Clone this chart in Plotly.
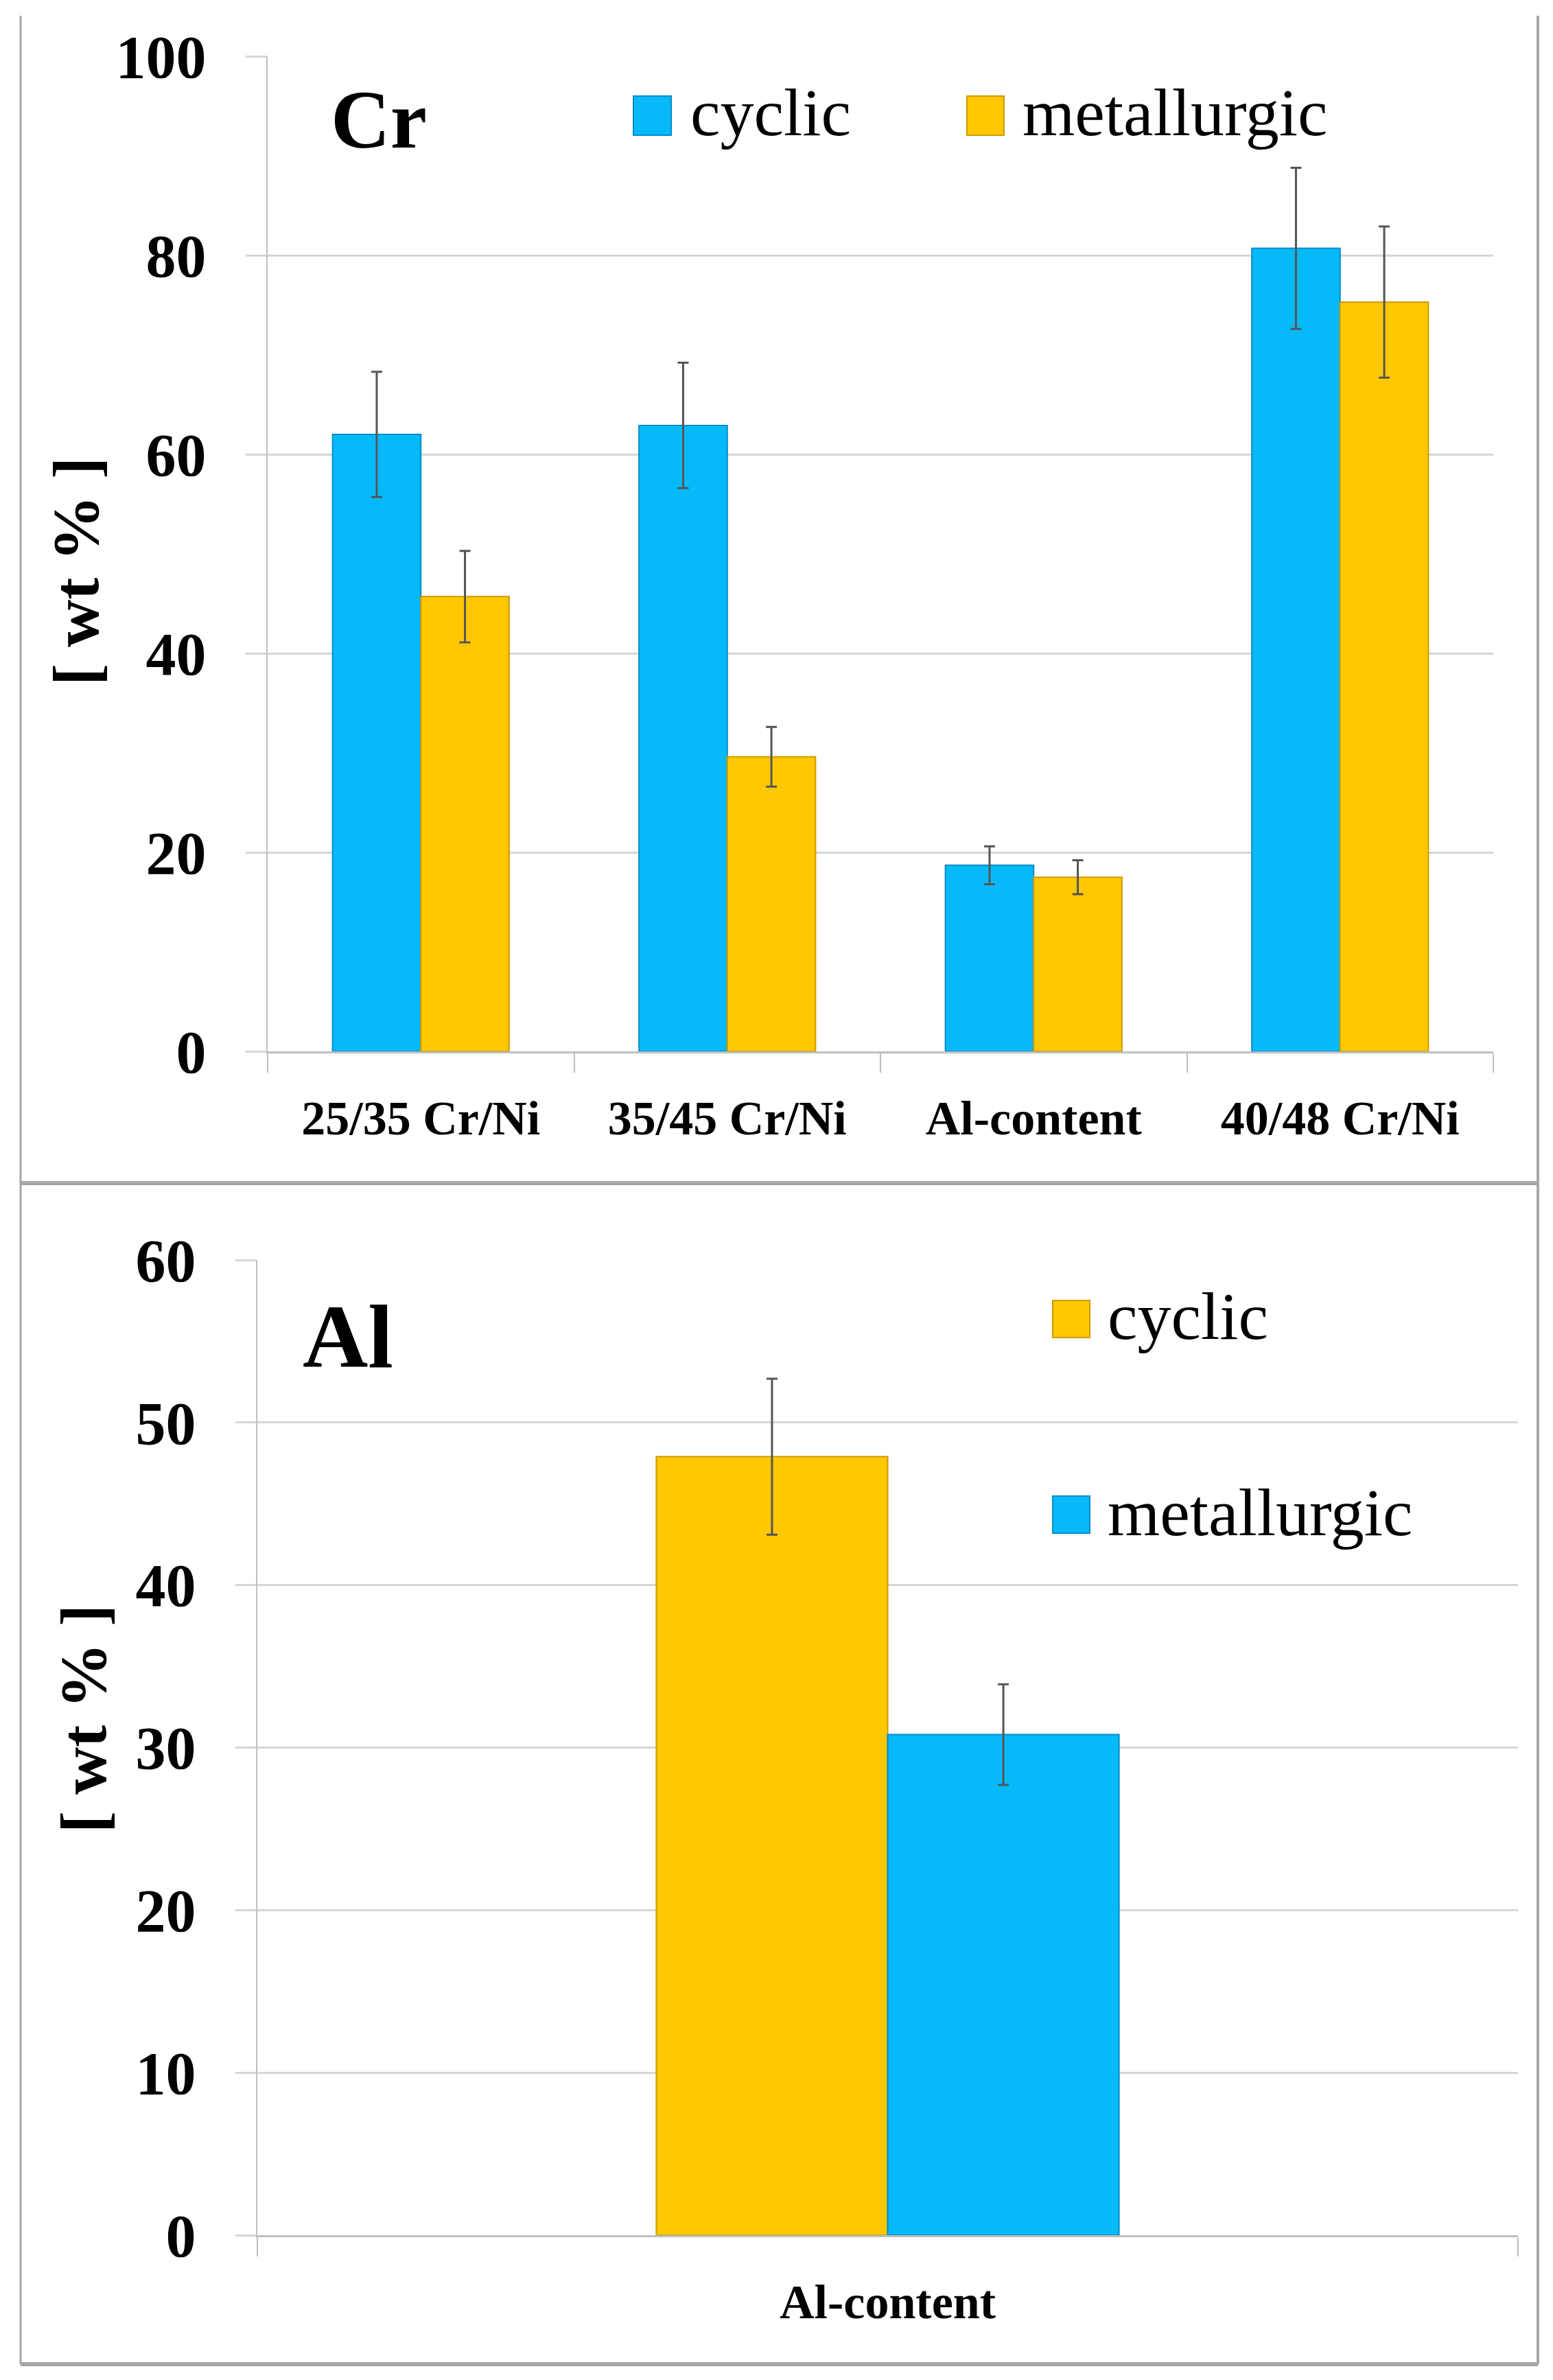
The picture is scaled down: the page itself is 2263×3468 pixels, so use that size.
import plotly.graph_objects as go

W, H = 2263, 3468
OFF = 8  # page body margin compensation

# ---------------- data ----------------
cr_categories = ["25/35 Cr/Ni", "35/45 Cr/Ni", "Al-content", "40/48 Cr/Ni"]
cr_cyclic = [62.0, 62.9, 18.7, 80.7]
cr_cyclic_err = [6.3, 6.3, 1.9, 8.1]
cr_metallurgic = [45.7, 29.6, 17.5, 75.3]
cr_metallurgic_err = [4.6, 3.0, 1.7, 7.6]

al_categories = ["Al-content"]
al_cyclic = [47.9]
al_cyclic_err = [4.8]
al_metallurgic = [30.8]
al_metallurgic_err = [3.1]

cr_yticks = [0, 20, 40, 60, 80, 100]
al_yticks = [0, 10, 20, 30, 40, 50, 60]

BLUE = "rgb(6,186,250)"
BLUE_EDGE = "rgb(0,140,200)"
GOLD = "rgb(255,200,0)"
GOLD_EDGE = "rgb(205,155,0)"
ERR = "#555555"
GRID = "#D6D6D6"
AXIS = "#BFBFBF"
FONT = "Liberation Serif"


def px(x):
    return (x - OFF) / W


def py(y):
    return 1 - (y - OFF) / H


fig = go.Figure()

# ---- top chart (Cr) ----
fig.add_trace(go.Bar(
    x=cr_categories, y=cr_cyclic, name="cyclic",
    marker=dict(color=BLUE, line=dict(color=BLUE_EDGE, width=2)),
    error_y=dict(type="data", array=cr_cyclic_err, color=ERR, thickness=3, width=8),
    xaxis="x", yaxis="y", showlegend=False,
))
fig.add_trace(go.Bar(
    x=cr_categories, y=cr_metallurgic, name="metallurgic",
    marker=dict(color=GOLD, line=dict(color=GOLD_EDGE, width=2)),
    error_y=dict(type="data", array=cr_metallurgic_err, color=ERR, thickness=3, width=8),
    xaxis="x", yaxis="y", showlegend=False,
))

# ---- bottom chart (Al) ----
BW = 0.1835
fig.add_trace(go.Bar(
    x=al_categories, y=al_cyclic, name="cyclic",
    width=BW, offset=-BW,
    marker=dict(color=GOLD, line=dict(color=GOLD_EDGE, width=2)),
    error_y=dict(type="data", array=al_cyclic_err, color=ERR, thickness=3, width=8),
    xaxis="x2", yaxis="y2", showlegend=False,
))
fig.add_trace(go.Bar(
    x=al_categories, y=al_metallurgic, name="metallurgic",
    width=BW, offset=0,
    marker=dict(color=BLUE, line=dict(color=BLUE_EDGE, width=2)),
    error_y=dict(type="data", array=al_metallurgic_err, color=ERR, thickness=3, width=8),
    xaxis="x2", yaxis="y2", showlegend=False,
))

xcommon = dict(
    type="category", showline=True, linecolor=AXIS, linewidth=3,
    ticks="outside", tickson="boundaries", ticklen=28, tickcolor=AXIS, tickwidth=2,
    showgrid=False, zeroline=False, automargin=False,
    tickfont=dict(family=FONT, size=70, color="black", weight="bold"),
    ticklabelstandoff=34,
)
ycommon = dict(
    showline=True, linecolor=AXIS, linewidth=2,
    ticks="outside", ticklen=30, tickcolor=GRID, tickwidth=3,
    showgrid=True, gridcolor=GRID, gridwidth=3, zeroline=False, automargin=False,
    tickfont=dict(family=FONT, size=88, color="black", weight="bold"),
    ticklabelstandoff=40,
)

fig.update_layout(
    width=W, height=H,
    margin=dict(l=0, r=0, t=0, b=0, autoexpand=False),
    paper_bgcolor="white", plot_bgcolor="white",
    barmode="group", bargap=0.424, bargroupgap=0,
    xaxis=dict(domain=[px(390), px(2176)], anchor="y", **xcommon),
    yaxis=dict(domain=[py(1532), py(82)], anchor="x", range=[0, 100],
               tickvals=cr_yticks, **ycommon),
    xaxis2=dict(domain=[px(375), px(2212)], anchor="y2", range=[-0.5, 0.5], **xcommon),
    yaxis2=dict(domain=[py(3257), py(1836)], anchor="x2", range=[0, 60],
                tickvals=al_yticks, **ycommon),
    font=dict(family=FONT, color="black"),
)

annotations = [
    dict(text="Cr", x=px(552), y=py(175), xref="paper", yref="paper",
         showarrow=False, xanchor="center", yanchor="middle",
         font=dict(family=FONT, size=120, weight="bold", color="black")),
    dict(text="Al", x=px(507), y=py(1947), xref="paper", yref="paper",
         showarrow=False, xanchor="center", yanchor="middle",
         font=dict(family=FONT, size=132, weight="bold", color="black")),
    dict(text="[ wt % ]", x=px(110), y=py(833), xref="paper", yref="paper",
         showarrow=False, xanchor="center", yanchor="middle", textangle=-90,
         font=dict(family=FONT, size=96, weight="bold", color="black")),
    dict(text="[ wt % ]", x=px(121), y=py(2505), xref="paper", yref="paper",
         showarrow=False, xanchor="center", yanchor="middle", textangle=-90,
         font=dict(family=FONT, size=96, weight="bold", color="black")),
]

# legends (manual, to match large swatches)
legend_items = [
    # (swatch x0, x1, y0, y1, colour, edge, text, text x, text y)
    (923, 978, 140, 197, BLUE, BLUE_EDGE, "cyclic", 1004, 164),
    (1409, 1463, 140, 197, GOLD, GOLD_EDGE, "metallurgic", 1488, 164),
    (1534, 1588, 1895, 1949, GOLD, GOLD_EDGE, "cyclic", 1612, 1918),
    (1534, 1588, 2180, 2234, BLUE, BLUE_EDGE, "metallurgic", 1612, 2204),
]
shapes = []
for x0, x1, y0, y1, col, edge, txt, tx, ty in legend_items:
    shapes.append(dict(type="rect", xref="paper", yref="paper",
                       x0=px(x0), x1=px(x1), y0=py(y1), y1=py(y0),
                       fillcolor=col, line=dict(color=edge, width=2)))
    annotations.append(dict(text=txt, x=px(tx), y=py(ty), xref="paper", yref="paper",
                            showarrow=False, xanchor="left", yanchor="middle",
                            font=dict(family=FONT, size=98, color="black")))

# outer frame
FRAME = "#A6A6A6"
shapes += [
    dict(type="line", xref="paper", yref="paper", x0=px(30), x1=px(30), y0=py(23), y1=py(3445),
         line=dict(color=FRAME, width=3)),
    dict(type="line", xref="paper", yref="paper", x0=px(2241), x1=px(2241), y0=py(23), y1=py(3445),
         line=dict(color=FRAME, width=4)),
    dict(type="line", xref="paper", yref="paper", x0=px(30), x1=px(2241), y0=py(1724), y1=py(1724),
         line=dict(color=FRAME, width=6)),
    dict(type="line", xref="paper", yref="paper", x0=px(30), x1=px(2241), y0=py(3445), y1=py(3445),
         line=dict(color=FRAME, width=6)),
]

fig.update_layout(annotations=annotations, shapes=shapes)

fig.write_html("out.html")
